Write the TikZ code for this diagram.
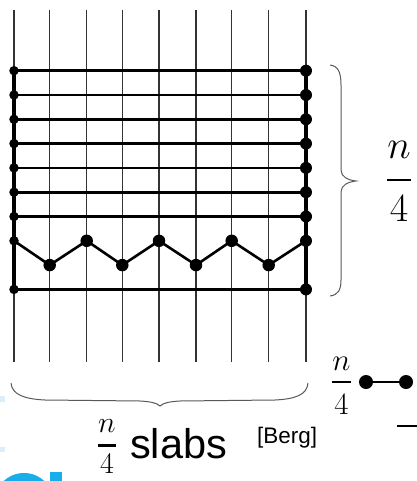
\documentclass[tikz,border=0pt]{standalone}
\usepackage{fix-cm}
\usepackage{amsmath}
\usepackage[no-math]{fontspec}
\setmainfont{Liberation Sans}
\definecolor{logocyan}{HTML}{19AEEA}
\definecolor{faintblue}{HTML}{DCEFF9}
\begin{document}
\begin{tikzpicture}[x=1pt,y=-1pt,
  gridline/.style={draw=black!80, line width=1.3pt},
  rowline/.style={line width=2.6pt},
  edgeline/.style={line width=4.5pt},
  ldot/.style={circle, fill=black, inner sep=0pt, minimum size=9.5pt},
  rdot/.style={circle, fill=black, inner sep=0pt, minimum size=12pt},
  zdot/.style={circle, fill=black, inner sep=0pt, minimum size=12.5pt},
  bdot/.style={circle, fill=black, inner sep=0pt, minimum size=14pt},
  bracestyle/.style={draw=black!65, line width=1pt},
  lbl/.style={inner sep=0pt},
]
\useasboundingbox (0,0) rectangle (416,481);

% background fragments
\fill[faintblue] (0,396) rectangle (5,402);
\fill[faintblue] (0,447) rectangle (5,452);
\begin{scope}
\clip (0,0) rectangle (416,481);
\fill[logocyan] (24,503) circle (30pt);
\fill[logocyan] (50,472) rectangle (62,481);
\end{scope}

% vertical thin lines
\foreach \i/\x in {0/14,1/49.7,2/86.7,3/122.3,4/159,5/196,6/231.7,7/268.7,8/306}{
  \coordinate (T\i) at (\x,10);
  \coordinate (B\i) at (\x,362);
  \draw[gridline] (T\i) -- (B\i);
}

% row dots on left and right
\foreach \k/\y in {0/70.7,1/95.0,2/119.3,3/143.6,4/167.9,5/192.2,6/216.5,7/240.8,9/289.4}{
  \node[ldot] (L\k) at (14,\y) {};
  \node[rdot] (R\k) at (306,\y) {};
}

% horizontal rows
\foreach \k in {0,...,6,9}{
  \draw[rowline] (L\k.center) -- (R\k.center);
}

% thick side edges
\draw[edgeline] (L0.center) -- (L9.center);
\draw[edgeline] (R0.center) -- (R9.center);

% zigzag
\node[zdot] (Z1) at (49.7,265.1) {};
\node[zdot] (Z2) at (86.7,240.8) {};
\node[zdot] (Z3) at (122.3,265.1) {};
\node[zdot] (Z4) at (159,240.8) {};
\node[zdot] (Z5) at (196,265.1) {};
\node[zdot] (Z6) at (231.7,240.8) {};
\node[zdot] (Z7) at (268.7,265.1) {};
\draw[rowline] (L7.center) -- (Z1.center) -- (Z2.center) -- (Z3.center) -- (Z4.center)
  -- (Z5.center) -- (Z6.center) -- (Z7.center) -- (R7.center);

% right brace
\draw[bracestyle] (330,65) .. controls (338,66) and (341,72) .. (341,85) -- (341,170)
  .. controls (341,177) and (348,180) .. (356,181)
  .. controls (348,182) and (341,185) .. (341,192) -- (341,280)
  .. controls (341,290) and (338,295) .. (330,296);
\node[lbl, anchor=base] (rfrac) at (399,190) {\fontsize{40}{40}\selectfont$\genfrac{}{}{2.6pt}{0}{\raisebox{4pt}{$n$}}{\raisebox{-4pt}{$4$}}$};

% bottom brace
\draw[bracestyle] (11,383) .. controls (12,395) and (25,399) .. (45,400) -- (140,401)
  .. controls (150,401.5) and (157,403) .. (160,406)
  .. controls (163,403) and (170,401.5) .. (180,401) -- (275,400)
  .. controls (295,399) and (307,395) .. (308,383);

\node[lbl, anchor=base] (bfrac) at (107,453) {\fontsize{30}{30}\selectfont$\genfrac{}{}{2.3pt}{0}{n}{4}$};
\node[lbl, anchor=base west] (slabs) at (130,458.5) {\fontsize{41.5}{41.5}\selectfont slabs};
\node[lbl, anchor=base west] (berg) at (257,443) {\fontsize{22.5}{22.5}\selectfont [Berg]};

% bottom right fragment
\node[lbl, anchor=base] (sfrac) at (341.5,389.5) {\fontsize{31}{31}\selectfont$\genfrac{}{}{2.3pt}{0}{\raisebox{-2pt}{$n$}}{\raisebox{-4pt}{$4$}}$};
\node[bdot] (D1) at (366,382) {};
\node[bdot] (D2) at (406,382) {};
\draw[line width=2pt] (D1) -- (D2);
\coordinate (dashA) at (397,426);
\coordinate (dashB) at (418,426);
\draw[line width=2.6pt] (dashA) -- (dashB);
\end{tikzpicture}
\end{document}
